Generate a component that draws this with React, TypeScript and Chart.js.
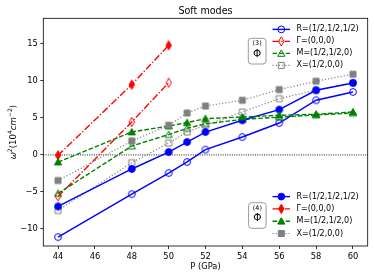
import React, { useEffect, useRef } from 'react';
import { Chart, registerables } from 'chart.js';

Chart.register(...registerables);

// ---------- data ----------
const PRESSURES = [44, 48, 50, 51, 52, 54, 56, 58, 60];
const PRESSURES_GAMMA = [44, 48, 50];
const X_TICKS = [44, 46, 48, 50, 52, 54, 56, 58, 60];
const Y_TICKS = [-10, -5, 0, 5, 10, 15];
const X_MIN = 43.2;
const X_MAX = 60.8;
const Y_MIN = -12.3;
const Y_MAX = 18.45;

const R_PHI3 = [-11.1, -5.3, -2.45, -0.95, 0.72, 2.42, 4.31, 7.38, 8.5];
const GAMMA_PHI3 = [-5.6, 4.45, 9.75];
const M_PHI3 = [-5.2, 1.2, 2.75, 3.6, 4.2, 4.8, 5.1, 5.4, 5.65];
const X_PHI3 = [-7.5, -1.05, 1.6, 3.1, 4.0, 5.8, 7.6, 8.75, 9.75];

const R_PHI4 = [-6.95, -1.9, 0.39, 1.74, 3.09, 4.68, 6.12, 8.73, 9.72];
const GAMMA_PHI4 = [-0.05, 9.5, 14.8];
const M_PHI4 = [-0.96, 3.1, 3.9, 4.36, 4.9, 5.12, 5.35, 5.49, 5.8];
const X_PHI4 = [-3.46, 1.88, 4.0, 5.66, 6.6, 7.38, 8.82, 9.95, 10.9];

const LABELS = ['R=(1/2,1/2,1/2)', 'Γ=(0,0,0)', 'M=(1/2,1/2,0)', 'X=(1/2,0,0)'];
const TITLE = 'Soft modes';
const X_LABEL = 'P (GPa)';

// ---------- styles ----------
const FONT = 'DejaVu Sans';
const BLUE = '#0000ff';
const RED = '#ff0000';
const GREEN = '#008000';
const GRAY = '#808080';

type Marker = 'circle' | 'diamond' | 'triangle' | 'square';
interface SeriesStyle { color: string; dash: number[]; marker: Marker; lw: number }
const STYLES: SeriesStyle[] = [
  { color: BLUE, dash: [], marker: 'circle', lw: 1.4 },
  { color: RED, dash: [7, 2, 1.3, 2], marker: 'diamond', lw: 1.4 },
  { color: GREEN, dash: [4.6, 2], marker: 'triangle', lw: 1.4 },
  { color: GRAY, dash: [1.2, 2], marker: 'square', lw: 1.2 },
];

function drawMarker(ctx: CanvasRenderingContext2D, m: Marker, x: number, y: number, color: string, filled: boolean) {
  ctx.save();
  ctx.setLineDash([]);
  ctx.lineWidth = 1;
  ctx.strokeStyle = color;
  ctx.fillStyle = color;
  ctx.beginPath();
  if (m === 'circle') {
    ctx.arc(x, y, 3.4, 0, Math.PI * 2);
  } else if (m === 'square') {
    ctx.rect(x - 3, y - 3, 6, 6);
  } else if (m === 'triangle') {
    ctx.moveTo(x, y - 3.5);
    ctx.lineTo(x + 3.6, y + 2.9);
    ctx.lineTo(x - 3.6, y + 2.9);
    ctx.closePath();
  } else {
    ctx.moveTo(x, y - 4.6);
    ctx.lineTo(x + 2.7, y);
    ctx.lineTo(x, y + 4.6);
    ctx.lineTo(x - 2.7, y);
    ctx.closePath();
  }
  if (filled) ctx.fill();
  ctx.stroke();
  ctx.restore();
}

function markerCanvas(m: Marker, color: string, filled: boolean): HTMLCanvasElement {
  const c = document.createElement('canvas');
  c.width = 12;
  c.height = 12;
  const ctx = c.getContext('2d') as CanvasRenderingContext2D;
  drawMarker(ctx, m, 6, 6, color, filled);
  return c;
}

function toPoints(xs: number[], ys: number[]) {
  return xs.map((x, i) => ({ x, y: ys[i] }));
}

function drawLegend(ctx: CanvasRenderingContext2D, y0: number, step: number, filled: boolean) {
  for (let i = 0; i < LABELS.length; i++) {
    const s = STYLES[i];
    const y = y0 + i * step;
    ctx.save();
    ctx.strokeStyle = s.color;
    ctx.lineWidth = s.lw;
    ctx.setLineDash(s.dash);
    ctx.beginPath();
    ctx.moveTo(272.5, y);
    ctx.lineTo(290, y);
    ctx.stroke();
    ctx.restore();
    drawMarker(ctx, s.marker, 281.3, y, s.color, filled);
    ctx.save();
    ctx.fillStyle = '#000';
    ctx.font = `8px "${FONT}"`;
    ctx.textBaseline = 'middle';
    ctx.textAlign = 'left';
    ctx.fillText(LABELS[i], 296.5, y);
    ctx.restore();
  }
}

function drawPhiBox(ctx: CanvasRenderingContext2D, x: number, y: number, w: number, h: number, sup: string) {
  ctx.save();
  ctx.strokeStyle = '#9a9a9a';
  ctx.lineWidth = 1;
  ctx.fillStyle = '#fff';
  ctx.beginPath();
  (ctx as any).roundRect(x, y, w, h, 3);
  ctx.fill();
  ctx.stroke();
  ctx.fillStyle = '#000';
  ctx.textAlign = 'center';
  ctx.textBaseline = 'middle';
  ctx.font = `6.4px "${FONT}"`;
  ctx.fillText(sup, x + w / 2, y + 5.3);
  ctx.font = `10.5px "${FONT}"`;
  ctx.fillText('Φ', x + w / 2, y + 16);
  ctx.restore();
}

function drawYLabel(ctx: CanvasRenderingContext2D, cx: number, cy: number) {
  const pieces = [
    { t: 'ω', it: true, sup: false },
    { t: '2', it: false, sup: true },
    { t: '(10', it: false, sup: false },
    { t: '4', it: false, sup: true },
    { t: 'cm', it: true, sup: false },
    { t: '−2', it: false, sup: true },
    { t: ')', it: false, sup: false },
  ];
  const fontFor = (p: { it: boolean; sup: boolean }) =>
    `${p.it ? 'italic ' : ''}${p.sup ? 6 : 8.6}px "${FONT}"`;
  ctx.save();
  ctx.translate(cx, cy);
  ctx.rotate(-Math.PI / 2);
  let total = 0;
  const widths = pieces.map((p) => {
    ctx.font = fontFor(p);
    const w = ctx.measureText(p.t).width;
    total += w;
    return w;
  });
  let x = -total / 2;
  ctx.fillStyle = '#000';
  ctx.textBaseline = 'middle';
  ctx.textAlign = 'left';
  pieces.forEach((p, i) => {
    ctx.font = fontFor(p);
    ctx.fillText(p.t, x, p.sup ? -3.2 : 0);
    x += widths[i];
  });
  ctx.restore();
}

const overlayPlugin = {
  id: 'overlay',
  beforeDatasetsDraw(chart: any) {
    const { ctx, chartArea } = chart;
    const y0 = chart.scales.y.getPixelForValue(0);
    ctx.save();
    ctx.strokeStyle = '#000';
    ctx.lineWidth = 0.9;
    ctx.setLineDash([1, 1.3]);
    ctx.beginPath();
    ctx.moveTo(chartArea.left, y0);
    ctx.lineTo(chartArea.right, y0);
    ctx.stroke();
    ctx.restore();
  },
  afterDraw(chart: any) {
    const { ctx, chartArea } = chart;
    ctx.save();
    ctx.strokeStyle = '#000';
    ctx.lineWidth = 0.8;
    ctx.strokeRect(chartArea.left, chartArea.top, chartArea.right - chartArea.left, chartArea.bottom - chartArea.top);
    ctx.restore();
    ctx.save();
    ctx.fillStyle = '#000';
    ctx.font = `9.6px "${FONT}"`;
    ctx.textAlign = 'center';
    ctx.textBaseline = 'alphabetic';
    const cx = (chartArea.left + chartArea.right) / 2;
    ctx.fillText(TITLE, cx, 14);
    ctx.font = `8.3px "${FONT}"`;
    ctx.textBaseline = 'middle';
    ctx.fillText(X_LABEL, cx, 266.5);
    ctx.restore();
    drawYLabel(ctx, 14, (chartArea.top + chartArea.bottom) / 2);
    drawLegend(ctx, 29.4, 12, false);
    drawLegend(ctx, 196.6, 12.3, true);
    drawPhiBox(ctx, 248.3, 38.3, 17.7, 25.7, '(3)');
    drawPhiBox(ctx, 248.6, 202.7, 17.5, 25.6, '(4)');
  },
};

export default function App() {
  const ref = useRef<HTMLCanvasElement | null>(null);
  useEffect(() => {
    if (!ref.current) return;
    const series = [
      { xs: PRESSURES, ys: R_PHI3, s: STYLES[0], filled: false },
      { xs: PRESSURES_GAMMA, ys: GAMMA_PHI3, s: STYLES[1], filled: false },
      { xs: PRESSURES, ys: M_PHI3, s: STYLES[2], filled: false },
      { xs: PRESSURES, ys: X_PHI3, s: STYLES[3], filled: false },
      { xs: PRESSURES, ys: R_PHI4, s: STYLES[0], filled: true },
      { xs: PRESSURES_GAMMA, ys: GAMMA_PHI4, s: STYLES[1], filled: true },
      { xs: PRESSURES, ys: M_PHI4, s: STYLES[2], filled: true },
      { xs: PRESSURES, ys: X_PHI4, s: STYLES[3], filled: true },
    ];
    const datasets = series.map((d, i) => ({
      data: toPoints(d.xs, d.ys),
      borderColor: d.s.color,
      borderWidth: d.s.lw,
      borderDash: d.s.dash,
      backgroundColor: d.s.color,
      pointStyle: markerCanvas(d.s.marker, d.s.color, d.filled),
      pointRadius: 4,
      pointHoverRadius: 4,
      tension: 0,
      fill: false,
      order: 20 - i,
    }));
    const tickFont = { family: FONT, size: 8.3 };
    const chart = new Chart(ref.current, {
      type: 'line',
      data: { datasets },
      options: {
        responsive: false,
        animation: false,
        devicePixelRatio: 1,
        events: [],
        layout: { padding: { top: 18.3, right: 6.3, left: 0, bottom: 0 } },
        plugins: { legend: { display: false }, title: { display: false }, tooltip: { enabled: false } },
        scales: {
          x: {
            type: 'linear',
            min: X_MIN,
            max: X_MAX,
            afterFit(s: any) { s.height = 33; },
            afterBuildTicks(s: any) { s.ticks = X_TICKS.map((v) => ({ value: v })); },
            grid: { display: true, drawOnChartArea: false, drawTicks: true, tickLength: 3, tickWidth: 0.8, tickColor: '#000' },
            border: { display: false },
            ticks: {
              padding: 2.5,
              color: '#000',
              font: tickFont,
              maxRotation: 0,
              autoSkip: false,
              callback: (v: any) => String(v),
            },
          },
          y: {
            type: 'linear',
            min: Y_MIN,
            max: Y_MAX,
            afterFit(s: any) { s.width = 43.3; },
            afterBuildTicks(s: any) { s.ticks = Y_TICKS.map((v) => ({ value: v })); },
            grid: { display: true, drawOnChartArea: false, drawTicks: true, tickLength: 3, tickWidth: 0.8, tickColor: '#000' },
            border: { display: false },
            ticks: {
              padding: 2.5,
              color: '#000',
              font: tickFont,
              autoSkip: false,
              callback: (v: any) => (Number(v) < 0 ? '−' + Math.abs(Number(v)) : String(v)),
            },
          },
        },
      },
      plugins: [overlayPlugin],
    } as any);
    return () => chart.destroy();
  }, []);
  return (
    <div style={{ position: 'absolute', left: 0, top: 0, width: 374, height: 279, background: '#fff' }}>
      <canvas ref={ref} width={374} height={279} style={{ display: 'block', width: 374, height: 279 }} />
    </div>
  );
}
